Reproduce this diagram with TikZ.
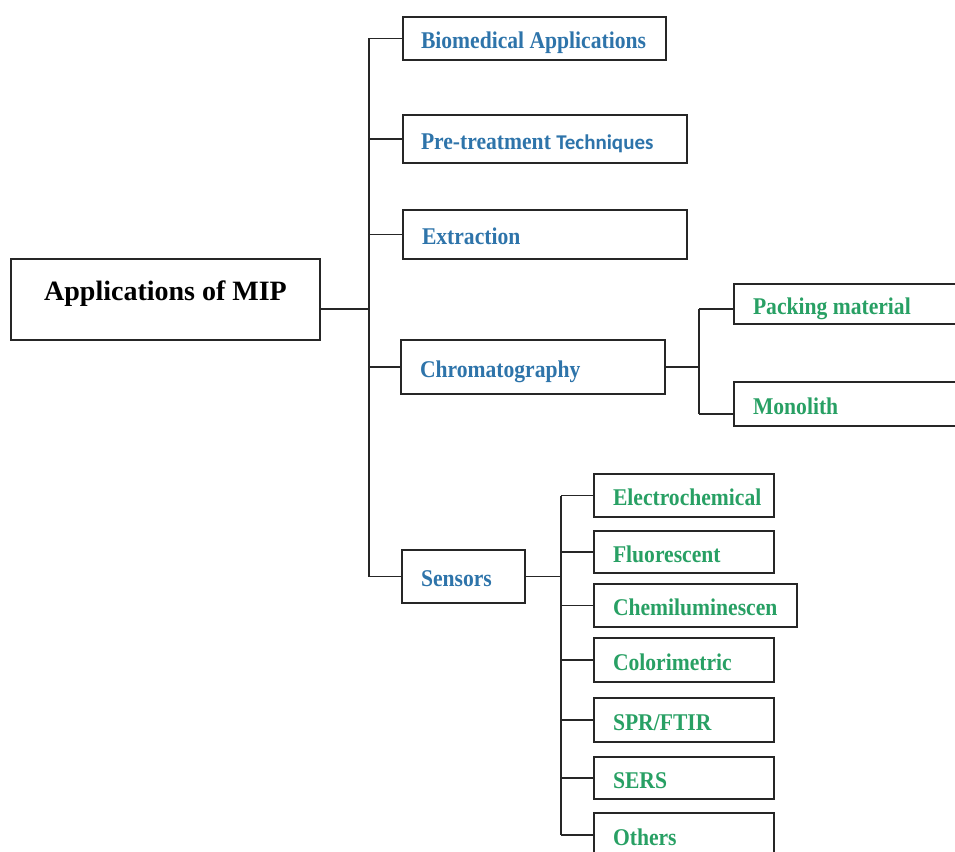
\documentclass[tikz,border=0pt]{standalone}
\usepackage{fontspec}
\setmainfont{Liberation Serif}
\newfontfamily\narrowserif[FakeStretch=0.9]{Liberation Serif}
\newfontfamily\techfont{Carlito}
\usetikzlibrary{positioning}
\definecolor{mipblue}{RGB}{46,116,170}
\definecolor{mipgreen}{RGB}{40,160,100}
\DeclareRobustCommand\blockfont{\fontsize{24}{28}\narrowserif\bfseries}
\tikzstyle{root} = [rectangle, draw=black!85, line width=1.6pt, minimum width=309pt, outer sep=0pt,
    minimum height=81pt, inner sep=0pt, text depth=18pt, font=\fontsize{28}{32}\selectfont\bfseries]
\tikzstyle{block} = [rectangle, draw=black!85, line width=1.6pt, inner xsep=19pt, inner ysep=0pt,
    outer sep=0pt, align=left, text height=20pt, text depth=0pt, font=\blockfont,
    execute at begin node={\spaceskip=0pt\xspaceskip=0pt\hyphenpenalty=10000\relax}]
\tikzstyle{topic} = [block, text=mipblue, minimum height=48pt]
\tikzstyle{method} = [block, text=mipgreen, minimum height=43pt, text width=142pt]
\tikzstyle{line} = [draw=black!85, line width=1.6pt]

\begin{document}
\begin{tikzpicture}
\useasboundingbox (0pt,0pt) rectangle (955pt,-851pt);
\node [root] (mip) at (165.5pt,-299.5pt) {Applications of MIP};
\node [topic, text width=227pt, inner xsep=18pt, minimum height=43pt, anchor=north west] (bio) at (403pt,-17pt) {Biomedical Applications};
\node [topic, text width=248pt, inner xsep=18pt, below=55pt of bio.south west, anchor=north west] (pre) {Pre-treatment {\techfont\fontsize{21}{26}\selectfont Techniques}};
\node [topic, text width=246pt, minimum height=49pt, below=47pt of pre.south west, anchor=north west] (ext) {Extraction};
\node [topic, text width=226pt, minimum height=54pt, below=81pt of ext.south west, anchor=north west, xshift=-2pt] (chrom) {Chromatography};
\node [topic, text width=85pt, minimum height=53pt, below=156pt of chrom.south west, anchor=north west, xshift=1pt] (sens) {Sensors};

\node [method, text width=192pt, minimum height=40pt, anchor=north west] (pack) at (734pt,-284pt) {Packing material};
\node [method, text width=192pt, minimum height=44pt, below=58pt of pack.south west, anchor=north west] (mono) {Monolith};

\node [method, anchor=north west] (elec) at (594pt,-474pt) {Electrochemical};
\node [method, minimum height=42pt, below=14pt of elec.south west, anchor=north west] (fluo) {Fluorescent};
\node [method, text width=165pt, below=11pt of fluo.south west, anchor=north west] (chemi) {Chemiluminescen};
\node [method, minimum height=44pt, below=11pt of chemi.south west, anchor=north west] (colo) {Colorimetric};
\node [method, minimum height=44pt, below=16pt of colo.south west, anchor=north west] (spr) {SPR/FTIR};
\node [method, minimum height=42pt, below=15pt of spr.south west, anchor=north west] (sers) {SERS};
\node [method, minimum height=44pt, below=14pt of sers.south west, anchor=north west] (others) {Others};

% main trunk
\coordinate (trunk) at (369pt,-309pt);
\path [line] ([yshift=-9.5pt]mip.east) -- (trunk);
\path [line] (trunk |- bio.west) -- (trunk |- sens.west);
\foreach \n in {bio,pre,ext,chrom,sens}
  \path [line] (trunk |- \n.west) -- (\n.west);

% chromatography
\coordinate [right=34pt of chrom.east] (chromjoint);
\path [line] (chrom.east) -- (chromjoint);
\path [line] ([yshift=-5pt]chromjoint |- pack.west) -- ([yshift=-10pt]chromjoint |- mono.west);
\path [line] ([yshift=-5pt]chromjoint |- pack.west) -- ([yshift=-5pt]pack.west);
\path [line] ([yshift=-10pt]chromjoint |- mono.west) -- ([yshift=-10pt]mono.west);

% sensors
\coordinate [right=36pt of sens.east] (sensjoint);
\path [line] (sens.east) -- (sensjoint);
\path [line] (sensjoint |- elec.west) -- (sensjoint |- others.west);
\foreach \n in {elec,fluo,chemi,colo,spr,sers,others}
  \path [line] (sensjoint |- \n.west) -- (\n.west);

\end{tikzpicture}
\end{document}
